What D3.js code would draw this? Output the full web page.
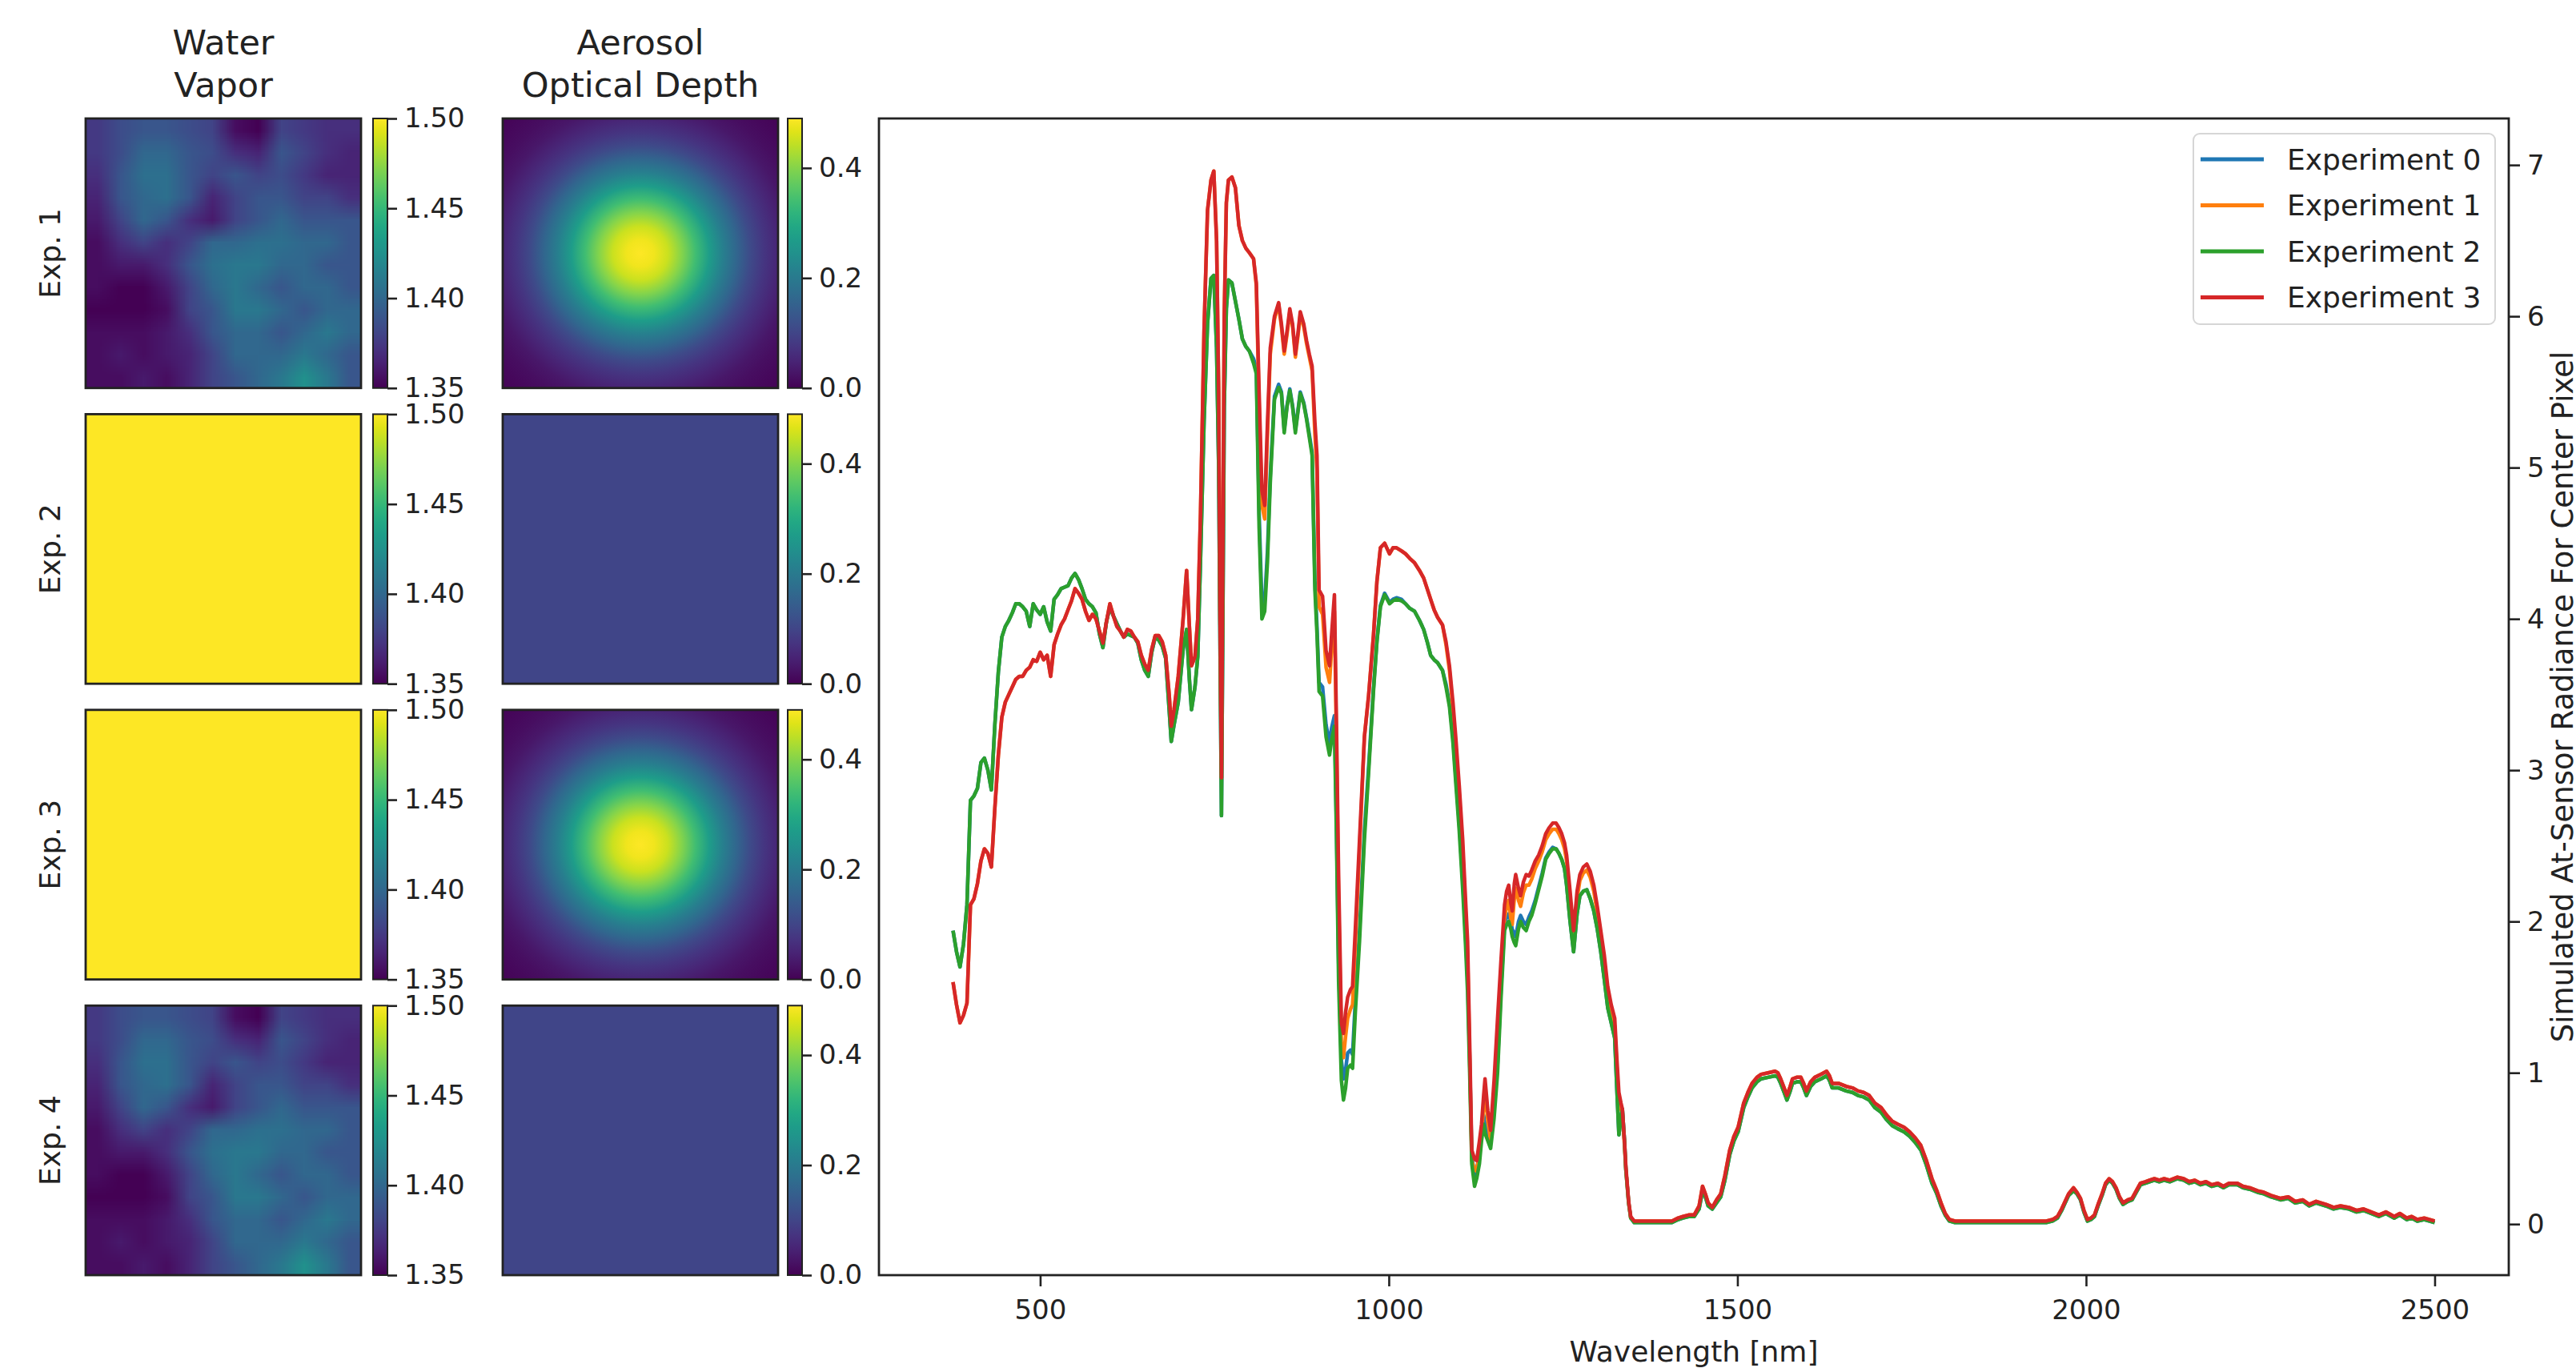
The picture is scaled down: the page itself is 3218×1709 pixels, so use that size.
<!DOCTYPE html>
<html>
<head>
<meta charset="utf-8">
<script src="https://cdn.jsdelivr.net/npm/d3@7"></script>
<style>
  body { margin: 0; background: #fff; }
  svg { display: block; font-family: "DejaVu Sans", sans-serif; }
</style>
</head>
<body>
<script>
// ---- data ----
const rowLabels = ["Exp. 1", "Exp. 2", "Exp. 3", "Exp. 4"]
const colTitles = [["Water", "Vapor"], ["Aerosol", "Optical Depth"]]
const experiments = ["Experiment 0", "Experiment 1", "Experiment 2", "Experiment 3"]

const wvRange = [1.35, 1.50]
const wvTicks = [1.35, 1.40, 1.45, 1.50]
const aodRange = [0, 0.49]
const aodTicks = [0, 0.2, 0.4]

const wvMode = ["field", "uniform", "uniform", "field"]
const wvUniform = 1.50
const aodMode = ["plume", "uniform", "plume", "uniform"]
const aodUniform = 0.10

// water vapour scene, 12 x 12 cells, top row first
const wvField = [
  [1.375,1.385,1.39,1.39,1.385,1.38,1.355,1.35,1.38,1.375,1.37,1.37],
  [1.375,1.385,1.40,1.40,1.39,1.385,1.37,1.365,1.39,1.38,1.37,1.365],
  [1.37,1.39,1.405,1.405,1.39,1.38,1.39,1.38,1.385,1.375,1.365,1.365],
  [1.365,1.39,1.40,1.405,1.39,1.365,1.38,1.39,1.39,1.38,1.38,1.37],
  [1.36,1.38,1.40,1.39,1.37,1.36,1.38,1.39,1.40,1.39,1.39,1.39],
  [1.355,1.37,1.38,1.37,1.38,1.40,1.40,1.405,1.405,1.40,1.40,1.39],
  [1.355,1.36,1.36,1.37,1.39,1.405,1.41,1.41,1.40,1.40,1.39,1.39],
  [1.355,1.35,1.35,1.36,1.38,1.40,1.41,1.40,1.39,1.40,1.40,1.39],
  [1.35,1.35,1.35,1.355,1.38,1.39,1.41,1.41,1.40,1.39,1.40,1.40],
  [1.355,1.355,1.355,1.36,1.37,1.39,1.40,1.40,1.39,1.40,1.41,1.40],
  [1.355,1.36,1.355,1.36,1.365,1.38,1.40,1.40,1.40,1.41,1.40,1.39],
  [1.355,1.355,1.36,1.355,1.365,1.38,1.39,1.40,1.41,1.425,1.41,1.39]
]
// aerosol plume: value every 0.1 panel half-width from the centre outwards
const aodProfile = [0.49,0.48,0.45,0.40,0.34,0.27,0.21,0.16,0.11,0.075,0.05,0.03,0.018,0.01,0.005]

const xTicks = [500, 1000, 1500, 2000, 2500]
const yTicks = [0, 1, 2, 3, 4, 5, 6, 7]

const wavelengths = [
  375,380,385,390,395,400,405,410,415,420,
  425,430,435,440,445,450,455,460,465,470,
  475,480,485,490,495,500,505,510,515,520,
  525,530,535,540,545,550,555,560,565,570,
  575,580,585,590,595,600,605,610,615,620,
  625,630,635,640,645,650,655,660,665,670,
  675,680,685,688,692,698,705,710,714,717,
  722,726,730,735,740,745,749,753,756,758,
  760,762,764,767,770,775,780,785,790,795,
  800,806,810,814,818,822,826,830,836,842,
  846,850,854,858,862,866,870,873,878,882,
  886,890,894,897,900,905,910,915,918,922,
  925,928,932,935,938,941,945,948,952,958,
  965,971,978,983,988,994,1001,1006,1011,1018,
  1024,1030,1037,1044,1050,1055,1060,1065,1070,1077,
  1082,1087,1092,1096,1101,1106,1110,1113,1116,1119,
  1123,1126,1130,1133,1136,1138,1142,1146,1151,1156,
  1161,1166,1169,1172,1175,1177,1180,1182,1186,1189,
  1193,1197,1201,1205,1210,1215,1220,1225,1230,1235,
  1240,1244,1248,1252,1255,1260,1265,1270,1274,1279,
  1284,1289,1294,1299,1304,1309,1314,1319,1324,1327,
  1330,1333,1335,1338,1340,1344,1347,1352,1380,1406,
  1415,1422,1430,1438,1445,1450,1454,1458,1464,1470,
  1476,1482,1489,1495,1501,1509,1515,1521,1528,1534,
  1544,1554,1558,1562,1567,1571,1575,1579,1585,1591,
  1595,1599,1605,1611,1620,1628,1632,1636,1645,1656,
  1665,1673,1681,1689,1697,1706,1714,1722,1730,1739,
  1747,1755,1763,1771,1779,1786,1792,1798,1804,1812,
  1820,1860,1900,1943,1952,1959,1965,1969,1975,1982,
  1987,1992,1997,2002,2007,2012,2018,2023,2028,2033,
  2038,2043,2048,2053,2060,2066,2072,2078,2085,2091,
  2098,2105,2112,2120,2131,2140,2148,2156,2164,2172,
  2180,2189,2197,2205,2217,2225,2235,2246,2255,2265,
  2279,2290,2300,2311,2320,2330,2344,2355,2365,2377,
  2388,2398,2409,2420,2430,2442,2450,2460,2467,2475,
  2485,2500
]

const exp0 = [
  1.94,1.80,1.70,1.85,2.11,2.80,2.83,2.88,3.05,3.08,
  3.00,2.87,3.30,3.65,3.88,3.95,3.99,4.04,4.10,4.10,
  4.08,4.05,3.95,4.10,4.06,4.03,4.08,3.98,3.92,4.13,
  4.16,4.20,4.21,4.22,4.27,4.30,4.26,4.20,4.13,4.10,
  4.08,4.04,3.90,3.81,3.98,4.08,4.02,3.97,3.92,3.88,
  3.90,3.89,3.88,3.84,3.73,3.66,3.62,3.78,3.88,3.86,
  3.82,3.74,3.40,3.19,3.30,3.45,3.80,3.93,3.60,3.40,
  3.55,3.75,4.40,5.30,5.95,6.25,6.27,5.79,5.00,3.80,
  2.70,4.00,5.40,6.05,6.24,6.22,6.10,5.98,5.85,5.80,
  5.77,5.72,5.66,4.70,4.10,4.12,4.45,4.95,5.47,5.55,
  5.50,5.25,5.41,5.52,5.41,5.25,5.39,5.50,5.43,5.33,
  5.22,5.10,4.25,3.95,3.58,3.55,3.30,3.18,3.28,3.36,
  2.62,1.72,1.08,0.96,1.02,1.13,1.15,1.12,1.48,1.94,
  2.60,3.02,3.54,3.86,4.09,4.17,4.11,4.13,4.14,4.13,
  4.10,4.07,4.05,3.99,3.93,3.85,3.76,3.73,3.71,3.66,
  3.57,3.44,3.22,2.96,2.65,2.27,1.92,1.62,1.10,0.46,
  0.31,0.36,0.46,0.60,0.72,0.66,0.60,0.55,0.76,1.06,
  1.56,1.98,2.03,2.05,2.00,1.95,1.92,1.90,2.00,2.04,
  2.00,1.98,2.03,2.07,2.14,2.23,2.32,2.42,2.46,2.49,
  2.48,2.45,2.41,2.35,2.24,2.00,1.80,2.05,2.17,2.20,
  2.21,2.15,2.07,1.95,1.80,1.62,1.43,1.33,1.23,0.90,
  0.59,0.70,0.76,0.55,0.36,0.14,0.04,0.01,0.01,0.01,
  0.03,0.04,0.05,0.05,0.10,0.22,0.18,0.12,0.10,0.14,
  0.18,0.29,0.46,0.55,0.61,0.77,0.84,0.90,0.94,0.96,
  0.97,0.98,0.97,0.93,0.87,0.82,0.87,0.93,0.94,0.94,
  0.90,0.85,0.91,0.94,0.96,0.98,0.95,0.90,0.90,0.88,
  0.87,0.85,0.84,0.82,0.77,0.74,0.69,0.65,0.63,0.61,
  0.58,0.54,0.49,0.39,0.27,0.20,0.12,0.06,0.02,0.01,
  0.01,0.01,0.01,0.01,0.02,0.04,0.09,0.13,0.19,0.22,
  0.20,0.16,0.08,0.02,0.03,0.05,0.13,0.19,0.26,0.29,
  0.27,0.23,0.17,0.13,0.15,0.16,0.21,0.26,0.27,0.28,
  0.29,0.28,0.29,0.28,0.30,0.29,0.27,0.28,0.26,0.27,
  0.25,0.26,0.24,0.26,0.26,0.24,0.23,0.21,0.20,0.18,
  0.16,0.17,0.14,0.15,0.12,0.14,0.12,0.10,0.11,0.10,
  0.08,0.09,0.07,0.05,0.07,0.04,0.06,0.03,0.04,0.02,
  0.03,0.01
]

const exp1 = [
  1.60,1.45,1.33,1.38,1.46,2.11,2.15,2.25,2.40,2.48,
  2.45,2.36,2.75,3.10,3.35,3.45,3.50,3.55,3.60,3.62,
  3.62,3.66,3.68,3.73,3.72,3.78,3.73,3.76,3.62,3.83,
  3.90,3.96,4.00,4.06,4.12,4.20,4.17,4.13,4.05,3.99,
  4.03,4.00,3.92,3.84,3.98,4.10,4.02,3.95,3.92,3.88,
  3.93,3.92,3.88,3.85,3.76,3.70,3.66,3.80,3.89,3.89,
  3.85,3.76,3.50,3.29,3.40,3.62,4.00,4.32,3.95,3.69,
  3.75,4.00,4.70,5.90,6.70,6.90,6.96,6.50,5.50,4.00,
  2.95,4.50,6.00,6.75,6.90,6.92,6.85,6.60,6.50,6.45,
  6.42,6.38,6.20,5.40,4.75,4.66,5.22,5.75,5.98,6.08,
  5.93,5.75,5.88,6.03,5.93,5.73,5.88,6.01,5.93,5.82,
  5.73,5.64,5.22,4.98,4.08,4.03,3.68,3.58,3.80,4.05,
  3.15,2.15,1.18,1.10,1.24,1.36,1.42,1.45,1.85,2.47,
  3.22,3.49,3.89,4.25,4.47,4.50,4.43,4.47,4.47,4.45,
  4.43,4.40,4.37,4.32,4.27,4.20,4.13,4.06,4.01,3.96,
  3.83,3.66,3.40,3.16,2.84,2.47,2.07,1.78,1.10,0.42,
  0.36,0.35,0.48,0.59,0.78,0.88,0.68,0.55,0.87,1.28,
  1.67,2.02,2.10,2.14,2.02,1.98,2.15,2.22,2.14,2.10,
  2.19,2.24,2.24,2.28,2.35,2.40,2.46,2.54,2.58,2.61,
  2.61,2.58,2.54,2.48,2.40,2.15,1.89,2.15,2.27,2.32,
  2.34,2.29,2.20,2.06,1.90,1.74,1.53,1.41,1.31,1.04,
  0.82,0.76,0.73,0.52,0.36,0.14,0.04,0.02,0.02,0.02,
  0.04,0.05,0.06,0.06,0.12,0.25,0.20,0.14,0.11,0.16,
  0.20,0.32,0.49,0.58,0.64,0.80,0.87,0.93,0.97,0.99,
  1.00,1.01,1.00,0.96,0.90,0.85,0.90,0.96,0.97,0.97,
  0.93,0.88,0.94,0.97,0.99,1.01,0.98,0.93,0.93,0.91,
  0.90,0.88,0.87,0.85,0.80,0.77,0.72,0.68,0.66,0.64,
  0.61,0.57,0.52,0.42,0.30,0.22,0.14,0.07,0.03,0.02,
  0.02,0.02,0.02,0.02,0.03,0.05,0.10,0.14,0.20,0.24,
  0.21,0.17,0.09,0.03,0.04,0.06,0.14,0.20,0.27,0.30,
  0.28,0.24,0.18,0.14,0.16,0.17,0.22,0.27,0.28,0.29,
  0.30,0.29,0.30,0.29,0.31,0.30,0.28,0.29,0.27,0.28,
  0.26,0.27,0.25,0.27,0.27,0.25,0.24,0.22,0.21,0.19,
  0.17,0.18,0.15,0.16,0.13,0.15,0.13,0.11,0.12,0.11,
  0.09,0.10,0.08,0.06,0.08,0.05,0.07,0.04,0.05,0.03,
  0.04,0.02
]

const exp2 = [
  1.94,1.80,1.70,1.85,2.11,2.80,2.83,2.88,3.05,3.08,
  3.00,2.87,3.30,3.65,3.88,3.95,3.99,4.04,4.10,4.10,
  4.08,4.05,3.95,4.10,4.06,4.03,4.08,3.98,3.92,4.13,
  4.16,4.20,4.21,4.22,4.27,4.30,4.26,4.20,4.13,4.10,
  4.08,4.04,3.90,3.81,3.98,4.08,4.02,3.97,3.92,3.88,
  3.90,3.89,3.88,3.84,3.73,3.66,3.62,3.78,3.88,3.86,
  3.82,3.74,3.40,3.19,3.30,3.45,3.80,3.93,3.60,3.40,
  3.55,3.75,4.40,5.30,5.95,6.25,6.27,5.79,5.00,3.80,
  2.70,4.00,5.40,6.05,6.24,6.22,6.10,5.98,5.85,5.80,
  5.77,5.69,5.62,4.60,4.00,4.05,4.38,4.90,5.45,5.53,
  5.49,5.23,5.40,5.51,5.40,5.23,5.38,5.49,5.42,5.32,
  5.20,5.08,4.19,3.90,3.52,3.49,3.22,3.10,3.20,3.29,
  2.54,1.60,0.95,0.82,0.90,1.03,1.05,1.03,1.40,1.87,
  2.54,2.98,3.52,3.85,4.08,4.16,4.10,4.12,4.13,4.12,
  4.10,4.07,4.05,3.99,3.93,3.85,3.76,3.73,3.71,3.66,
  3.55,3.42,3.18,2.92,2.60,2.21,1.85,1.53,1.00,0.40,
  0.25,0.30,0.40,0.55,0.66,0.60,0.55,0.50,0.70,1.00,
  1.50,1.94,1.98,2.00,1.95,1.90,1.86,1.84,1.95,2.00,
  1.96,1.94,2.00,2.04,2.12,2.21,2.30,2.41,2.45,2.48,
  2.48,2.45,2.41,2.35,2.24,2.00,1.80,2.05,2.17,2.20,
  2.21,2.15,2.07,1.95,1.80,1.62,1.43,1.33,1.23,0.90,
  0.59,0.70,0.76,0.55,0.36,0.14,0.04,0.01,0.01,0.01,
  0.03,0.04,0.05,0.05,0.10,0.22,0.18,0.12,0.10,0.14,
  0.18,0.29,0.46,0.55,0.61,0.77,0.84,0.90,0.94,0.96,
  0.97,0.98,0.97,0.93,0.87,0.82,0.87,0.93,0.94,0.94,
  0.90,0.85,0.91,0.94,0.96,0.98,0.95,0.90,0.90,0.88,
  0.87,0.85,0.84,0.82,0.77,0.74,0.69,0.65,0.63,0.61,
  0.58,0.54,0.49,0.39,0.27,0.20,0.12,0.06,0.02,0.01,
  0.01,0.01,0.01,0.01,0.02,0.04,0.09,0.13,0.19,0.22,
  0.20,0.16,0.08,0.02,0.03,0.05,0.13,0.19,0.26,0.29,
  0.27,0.23,0.17,0.13,0.15,0.16,0.21,0.26,0.27,0.28,
  0.29,0.28,0.29,0.28,0.30,0.29,0.27,0.28,0.26,0.27,
  0.25,0.26,0.24,0.26,0.26,0.24,0.23,0.21,0.20,0.18,
  0.16,0.17,0.14,0.15,0.12,0.14,0.12,0.10,0.11,0.10,
  0.08,0.09,0.07,0.05,0.07,0.04,0.06,0.03,0.04,0.02,
  0.03,0.01
]

const exp3 = [
  1.60,1.45,1.33,1.38,1.46,2.11,2.15,2.25,2.40,2.48,
  2.45,2.36,2.75,3.10,3.35,3.45,3.50,3.55,3.60,3.62,
  3.62,3.66,3.68,3.73,3.72,3.78,3.73,3.76,3.62,3.83,
  3.90,3.96,4.00,4.06,4.12,4.20,4.17,4.13,4.05,3.99,
  4.03,4.00,3.92,3.84,3.98,4.10,4.02,3.95,3.92,3.88,
  3.93,3.92,3.88,3.85,3.76,3.70,3.66,3.80,3.89,3.89,
  3.85,3.76,3.50,3.29,3.40,3.62,4.00,4.32,3.95,3.69,
  3.75,4.00,4.70,5.90,6.70,6.90,6.96,6.50,5.50,4.00,
  2.95,4.50,6.00,6.75,6.90,6.92,6.85,6.60,6.50,6.45,
  6.42,6.38,6.22,5.50,4.85,4.75,5.30,5.79,6.00,6.09,
  5.95,5.77,5.90,6.05,5.95,5.75,5.90,6.03,5.95,5.84,
  5.75,5.67,5.30,5.08,4.19,4.15,3.79,3.69,3.90,4.16,
  3.29,2.30,1.33,1.26,1.40,1.50,1.55,1.57,1.95,2.54,
  3.22,3.49,3.89,4.25,4.47,4.50,4.43,4.47,4.47,4.45,
  4.43,4.40,4.37,4.32,4.27,4.20,4.13,4.06,4.01,3.96,
  3.85,3.69,3.45,3.22,2.90,2.54,2.15,1.87,1.20,0.49,
  0.43,0.42,0.55,0.66,0.85,0.96,0.75,0.62,0.95,1.36,
  1.75,2.11,2.20,2.24,2.12,2.07,2.25,2.31,2.22,2.17,
  2.26,2.31,2.30,2.34,2.40,2.44,2.50,2.58,2.62,2.65,
  2.65,2.62,2.58,2.52,2.44,2.20,1.94,2.20,2.31,2.36,
  2.38,2.33,2.24,2.10,1.94,1.78,1.57,1.45,1.36,1.10,
  0.87,0.80,0.76,0.55,0.38,0.15,0.05,0.02,0.02,0.02,
  0.04,0.05,0.06,0.06,0.12,0.25,0.20,0.14,0.11,0.16,
  0.20,0.32,0.49,0.58,0.64,0.80,0.87,0.93,0.97,0.99,
  1.00,1.01,1.00,0.96,0.90,0.85,0.90,0.96,0.97,0.97,
  0.93,0.88,0.94,0.97,0.99,1.01,0.98,0.93,0.93,0.91,
  0.90,0.88,0.87,0.85,0.80,0.77,0.72,0.68,0.66,0.64,
  0.61,0.57,0.52,0.42,0.30,0.22,0.14,0.07,0.03,0.02,
  0.02,0.02,0.02,0.02,0.03,0.05,0.10,0.14,0.20,0.24,
  0.21,0.17,0.09,0.03,0.04,0.06,0.14,0.20,0.27,0.30,
  0.28,0.24,0.18,0.14,0.16,0.17,0.22,0.27,0.28,0.29,
  0.30,0.29,0.30,0.29,0.31,0.30,0.28,0.29,0.27,0.28,
  0.26,0.27,0.25,0.27,0.27,0.25,0.24,0.22,0.21,0.19,
  0.17,0.18,0.15,0.16,0.13,0.15,0.13,0.11,0.12,0.11,
  0.09,0.10,0.08,0.06,0.08,0.05,0.07,0.04,0.05,0.03,
  0.04,0.02
]

const seriesColors = ["#1f77b4", "#ff7f0e", "#2ca02c", "#d62728"]

// ---- layout ----
const W = 3218, H = 1709
const ink = "#222"
const plotTop = 148, plotBottom = 1593
const plotL = 1098, plotR = 3134
const panelX = [107, 628], panelW = 344
const cbX = [466, 984], cbW = 18

const svg = d3.select("body").append("svg")
    .attr("width", W)
    .attr("height", H)

const defs = svg.append("defs")

const wvColor = d3.scaleSequential(d3.interpolateViridis).domain(wvRange)
const aodColor = d3.scaleSequential(d3.interpolateViridis).domain(aodRange)

const rowBand = d3.scaleBand()
    .domain(rowLabels)
    .range([plotTop, plotBottom])
    .paddingInner(0.0884)

// viridis ramp for the colorbars
const ramp = defs.append("linearGradient")
    .attr("id", "ramp")
    .attr("x1", 0).attr("y1", 1).attr("x2", 0).attr("y2", 0)
d3.range(0, 1.0001, 0.05).forEach(t => {
  ramp.append("stop").attr("offset", t).attr("stop-color", d3.interpolateViridis(t))
})

// aerosol plume as a radial gradient from the profile
const plume = defs.append("radialGradient")
    .attr("id", "plume")
    .attr("cx", 0.5).attr("cy", 0.5)
    .attr("r", 0.5 * (aodProfile.length - 1) / 10)
aodProfile.forEach((v, i) => {
  plume.append("stop")
      .attr("offset", i / (aodProfile.length - 1))
      .attr("stop-color", aodColor(v))
})

// water vapour grid painted to a tiny canvas, scaled up smoothly
function fieldImage(grid) {
  const cv = document.createElement("canvas")
  cv.width = grid[0].length
  cv.height = grid.length
  const ctx = cv.getContext("2d")
  grid.forEach((row, i) => row.forEach((v, j) => {
    ctx.fillStyle = wvColor(v)
    ctx.fillRect(j, i, 1, 1)
  }))
  return cv.toDataURL()
}
const wvURL = fieldImage(wvField)

function styleAxis(g, size) {
  g.select(".domain").remove()
  g.attr("font-family", null).attr("font-size", size)
  g.selectAll(".tick line").attr("stroke", ink).attr("stroke-width", 2.6)
  g.selectAll(".tick text").attr("fill", ink)
}

const panels = svg.append("g").attr("class", "panels")

rowLabels.forEach((lab, i) => {
  const y0 = rowBand(lab), h = rowBand.bandwidth()

  // water vapour
  if (wvMode[i] === "field") {
    panels.append("image")
        .attr("href", wvURL)
        .attr("x", panelX[0]).attr("y", y0)
        .attr("width", panelW).attr("height", h)
        .attr("preserveAspectRatio", "none")
  } else {
    panels.append("rect")
        .attr("x", panelX[0]).attr("y", y0)
        .attr("width", panelW).attr("height", h)
        .attr("fill", wvColor(wvUniform))
  }

  // aerosol optical depth
  panels.append("rect")
      .attr("x", panelX[1]).attr("y", y0)
      .attr("width", panelW).attr("height", h)
      .attr("fill", aodMode[i] === "plume" ? "url(#plume)" : aodColor(aodUniform))

  panelX.forEach(px => {
    panels.append("rect")
        .attr("x", px).attr("y", y0)
        .attr("width", panelW).attr("height", h)
        .attr("fill", "none")
        .attr("stroke", ink)
        .attr("stroke-width", 2.8)
  })

  // colorbars
  const cbDefs = [
    {x: cbX[0], range: wvRange, ticks: wvTicks, fmt: d3.format(".2f")},
    {x: cbX[1], range: aodRange, ticks: aodTicks, fmt: d3.format(".1f")}
  ]
  cbDefs.forEach(cb => {
    panels.append("rect")
        .attr("x", cb.x).attr("y", y0)
        .attr("width", cbW).attr("height", h)
        .attr("fill", "url(#ramp)")
        .attr("stroke", ink)
        .attr("stroke-width", 2)
    const s = d3.scaleLinear().domain(cb.range).range([y0 + h, y0])
    panels.append("g")
        .attr("transform", `translate(${cb.x + cbW},0)`)
        .call(d3.axisRight(s).tickValues(cb.ticks).tickFormat(cb.fmt).tickSize(12).tickPadding(9))
        .call(g => styleAxis(g, 34))
  })

  // row label
  panels.append("text")
      .attr("transform", `translate(75,${y0 + h / 2}) rotate(-90)`)
      .attr("text-anchor", "middle")
      .attr("font-size", 36)
      .attr("fill", ink)
      .text(lab)
})

// column titles
colTitles.forEach((lines, c) => {
  const t = panels.append("text")
      .attr("text-anchor", "middle")
      .attr("font-size", 43)
      .attr("fill", ink)
  lines.forEach((ln, k) => {
    t.append("tspan")
        .attr("x", panelX[c] + panelW / 2)
        .attr("y", 68 + k * 53)
        .text(ln)
  })
})

// ---- spectra ----
const allValues = [exp0, exp1, exp2, exp3].flat()
const xExt = d3.extent(wavelengths), yExt = d3.extent(allValues)
const xPad = (xExt[1] - xExt[0]) * 0.05, yPad = (yExt[1] - yExt[0]) * 0.05

const x = d3.scaleLinear()
    .domain([xExt[0] - xPad, xExt[1] + xPad])
    .range([plotL, plotR])
const y = d3.scaleLinear()
    .domain([yExt[0] - yPad, yExt[1] + yPad])
    .range([plotBottom, plotTop])

const line = d3.line()
    .x((d, i) => x(wavelengths[i]))
    .y(d => y(d))

const plot = svg.append("g").attr("class", "spectra")

plot.selectAll("path.series")
    .data([exp0, exp1, exp2, exp3])
    .join("path")
    .attr("class", "series")
    .attr("d", line)
    .attr("fill", "none")
    .attr("stroke", (d, i) => seriesColors[i])
    .attr("stroke-width", 4.5)
    .attr("stroke-linejoin", "round")

plot.append("rect")
    .attr("x", plotL).attr("y", plotTop)
    .attr("width", plotR - plotL).attr("height", plotBottom - plotTop)
    .attr("fill", "none")
    .attr("stroke", ink)
    .attr("stroke-width", 2.8)

plot.append("g")
    .attr("transform", `translate(0,${plotBottom})`)
    .call(d3.axisBottom(x).tickValues(xTicks).tickFormat(d3.format("d")).tickSize(14).tickPadding(17))
    .call(g => styleAxis(g, 34))

plot.append("g")
    .attr("transform", `translate(${plotR},0)`)
    .call(d3.axisRight(y).tickValues(yTicks).tickFormat(d3.format("d")).tickSize(14).tickPadding(9))
    .call(g => styleAxis(g, 34))

plot.append("text")
    .attr("x", (plotL + plotR) / 2)
    .attr("y", 1701)
    .attr("text-anchor", "middle")
    .attr("font-size", 36)
    .attr("fill", ink)
    .text("Wavelength [nm]")

plot.append("text")
    .attr("transform", `translate(3214,${(plotTop + plotBottom) / 2}) rotate(-90)`)
    .attr("text-anchor", "middle")
    .attr("font-size", 37)
    .attr("fill", ink)
    .text("Simulated At-Sensor Radiance For Center Pixel")

// legend
const legend = plot.append("g").attr("class", "legend")
legend.append("rect")
    .attr("x", 2740).attr("y", 167)
    .attr("width", 377).attr("height", 238)
    .attr("rx", 8)
    .attr("fill", "#fff").attr("fill-opacity", 0.85)
    .attr("stroke", "#d6d6d6").attr("stroke-width", 2)

const entries = legend.selectAll("g.entry")
    .data(experiments)
    .join("g")
    .attr("class", "entry")
    .attr("transform", (d, i) => `translate(0,${199 + i * 57.5})`)
entries.append("line")
    .attr("x1", 2749).attr("x2", 2828)
    .attr("stroke", (d, i) => seriesColors[i])
    .attr("stroke-width", 5)
entries.append("text")
    .attr("x", 2857)
    .attr("dy", "0.36em")
    .attr("font-size", 36)
    .attr("fill", ink)
    .text(d => d)
</script>
</body>
</html>
